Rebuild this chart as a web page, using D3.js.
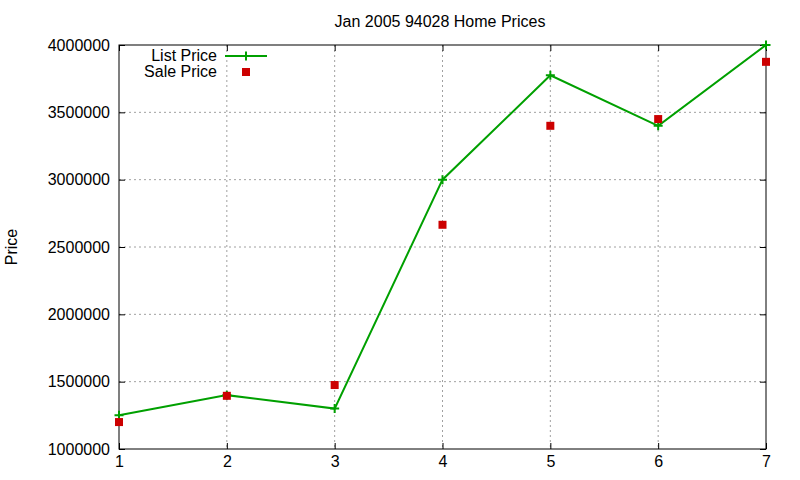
<!DOCTYPE html>
<html>
<head>
<meta charset="utf-8">
<script src="https://cdn.jsdelivr.net/npm/d3@7"></script>
<style>
  body { margin: 0; background: #fff; }
  svg { font-family: "Liberation Sans", Arial, sans-serif; }
</style>
</head>
<body>
<div id="container"></div>
<script>
/* DATA */
const xs = [1, 2, 3, 4, 5, 6, 7];
const listPrice = [1250000, 1400000, 1300000, 3000000, 3775000, 3400000, 4000000];
const salePrice = [1200000, 1395000, 1475000, 2665000, 3400000, 3450000, 3875000];
const yTicks = [1000000, 1500000, 2000000, 2500000, 3000000, 3500000, 4000000];
const title = "Jan 2005 94028 Home Prices";

/* CONSTANTS */
const width = 800;
const height = 480;
const plotLeft = 119, plotRight = 766, plotTop = 45, plotBottom = 449;
const green = "#00a000";
const red = "#cc0000";

const svg = d3.select("#container")
  .append("svg")
  .attr("width", width)
  .attr("height", height)

const xScale = d3.scaleLinear()
  .domain([1, 7])
  .range([plotLeft, plotRight])

const yScale = d3.scaleLinear()
  .domain([1000000, 4000000])
  .range([plotBottom, plotTop])

// grid
svg.append("g")
  .selectAll("line")
  .data(xs.slice(1, -1))
  .join("line")
  .attr("x1", d => xScale(d)).attr("x2", d => xScale(d))
  .attr("y1", plotTop).attr("y2", plotBottom)
  .attr("stroke", "#a0a0a0").attr("stroke-dasharray", "2,3")

svg.append("g")
  .selectAll("line")
  .data(yTicks.slice(1, -1))
  .join("line")
  .attr("y1", d => yScale(d)).attr("y2", d => yScale(d))
  .attr("x1", plotLeft).attr("x2", plotRight)
  .attr("stroke", "#a0a0a0").attr("stroke-dasharray", "2,3")

// axes (ticks inward, mirrored)
const fmt = d3.format("d");
const yAxis = d3.axisLeft(yScale).tickValues(yTicks).tickFormat(fmt).tickSizeInner(-6).tickSizeOuter(0).tickPadding(9)
const yAxisR = d3.axisRight(yScale).tickValues(yTicks).tickFormat("").tickSizeInner(-6).tickSizeOuter(0)
const xAxis = d3.axisBottom(xScale).tickValues(xs).tickFormat(fmt).tickSizeInner(-6).tickSizeOuter(0).tickPadding(7)
const xAxisT = d3.axisTop(xScale).tickValues(xs).tickFormat("").tickSizeInner(-6).tickSizeOuter(0)

svg.append("g").attr("transform", `translate(${plotLeft},0)`).call(yAxis)
svg.append("g").attr("transform", `translate(${plotRight},0)`).call(yAxisR)
svg.append("g").attr("transform", `translate(0,${plotBottom})`).call(xAxis)
svg.append("g").attr("transform", `translate(0,${plotTop})`).call(xAxisT)

svg.selectAll(".domain").remove()
svg.selectAll(".tick line").attr("stroke", "#000")
svg.selectAll(".tick text").attr("font-size", 16).attr("fill", "#000")
  .attr("font-family", "Liberation Sans, Arial, sans-serif")

svg.append("rect")
  .attr("x", plotLeft).attr("y", plotTop)
  .attr("width", plotRight - plotLeft).attr("height", plotBottom - plotTop)
  .attr("fill", "none").attr("stroke", "#000")

// list price line
const line = d3.line()
  .x((d, i) => xScale(xs[i]))
  .y(d => yScale(d))

svg.append("path")
  .datum(listPrice)
  .attr("d", line)
  .attr("fill", "none")
  .attr("stroke", green)
  .attr("stroke-width", 2)

const plusPath = "M-4.5,0H4.5M0,-4.5V4.5";
svg.selectAll(".lp")
  .data(listPrice)
  .join("path")
  .attr("class", "lp")
  .attr("d", plusPath)
  .attr("transform", (d, i) => `translate(${xScale(xs[i])},${yScale(d)})`)
  .attr("stroke", green)
  .attr("stroke-width", 2)

// sale price points
svg.selectAll(".sp")
  .data(salePrice)
  .join("rect")
  .attr("class", "sp")
  .attr("x", (d, i) => xScale(xs[i]) - 4)
  .attr("y", d => yScale(d) - 4)
  .attr("width", 8).attr("height", 8)
  .attr("fill", red)

// title
svg.append("text")
  .attr("x", 440).attr("y", 27)
  .attr("text-anchor", "middle")
  .attr("font-size", 16)
  .text(title)

svg.append("text")
  .attr("transform", "translate(17,247) rotate(-90)")
  .attr("text-anchor", "middle")
  .attr("font-size", 16)
  .text("Price")

// legend
const legend = svg.append("g")
legend.append("text").attr("x", 217).attr("y", 61).attr("text-anchor", "end").attr("font-size", 16).text("List Price")
legend.append("line").attr("x1", 225).attr("x2", 267).attr("y1", 56).attr("y2", 56).attr("stroke", green).attr("stroke-width", 2)
legend.append("path").attr("d", plusPath).attr("transform", "translate(246,56)").attr("stroke", green).attr("stroke-width", 2)
legend.append("text").attr("x", 217).attr("y", 77).attr("text-anchor", "end").attr("font-size", 16).text("Sale Price")
legend.append("rect").attr("x", 242).attr("y", 68).attr("width", 8).attr("height", 8).attr("fill", red)
</script>
</body>
</html>
